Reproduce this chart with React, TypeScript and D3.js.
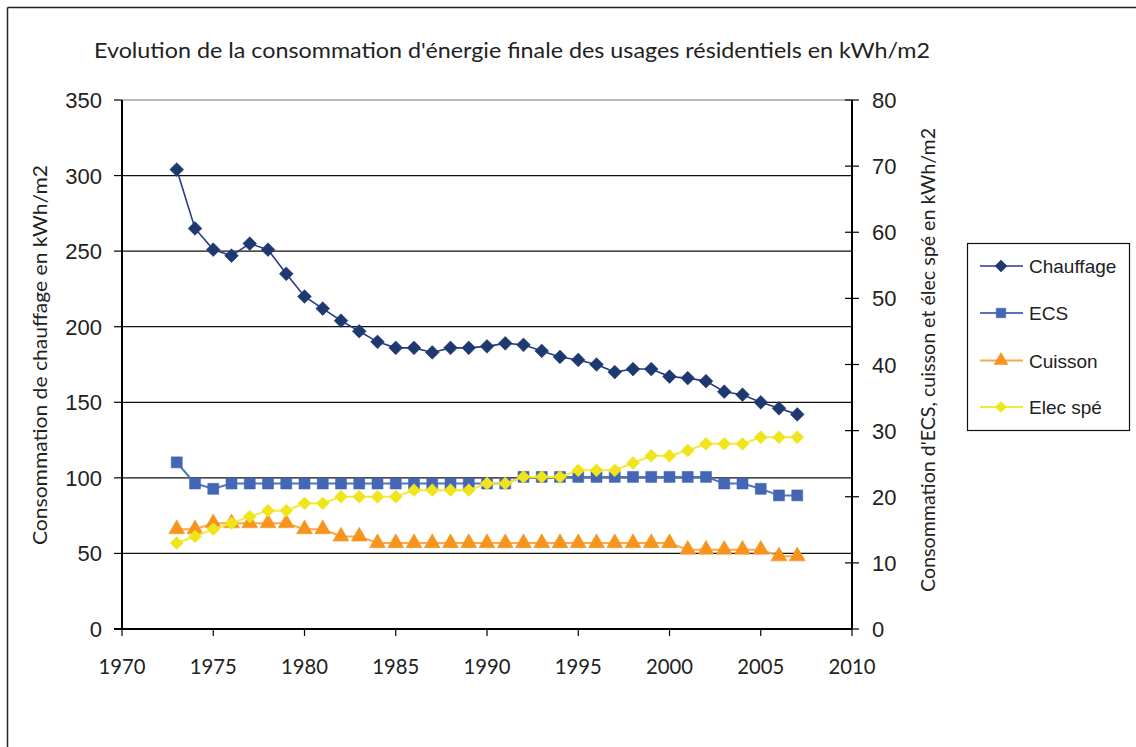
import React from "react";
import * as d3 from "d3";

const years = [
  1973, 1974, 1975, 1976, 1977, 1978, 1979, 1980, 1981, 1982, 1983, 1984,
  1985, 1986, 1987, 1988, 1989, 1990, 1991, 1992, 1993, 1994, 1995, 1996,
  1997, 1998, 1999, 2000, 2001, 2002, 2003, 2004, 2005, 2006, 2007,
];

// left axis (kWh/m2)
const chauffage = [
  304, 265, 251, 247, 255, 251, 235, 220, 212, 204, 197, 190, 186, 186, 183,
  186, 186, 187, 189, 188, 184, 180, 178, 175, 170, 172, 172, 167, 166, 164,
  157, 155, 150, 146, 142,
];

// right axis (kWh/m2)
const ecs = [
  25.2, 22, 21.2, 22, 22, 22, 22, 22, 22, 22, 22, 22, 22, 22, 22, 22, 22, 22,
  22, 23, 23, 23, 23, 23, 23, 23, 23, 23, 23, 23, 22, 22, 21.2, 20.2, 20.2,
];
const cuisson = [
  15.1, 15.1, 16, 16, 16, 16, 16, 15.1, 15.1, 14, 14, 13, 13, 13, 13, 13, 13,
  13, 13, 13, 13, 13, 13, 13, 13, 13, 13, 13, 12, 12, 12, 12, 12, 11, 11,
];
const elecSpe = [
  13, 14, 15.1, 16, 17, 17.9, 17.9, 19, 19, 20, 20, 20, 20, 21, 21, 21, 21, 22,
  22, 23, 23, 23, 24, 24, 24, 25.1, 26.2, 26.2, 27, 28, 28, 28, 29, 29, 29,
];

const leftTicks = [0, 50, 100, 150, 200, 250, 300, 350];
const rightTicks = [0, 10, 20, 30, 40, 50, 60, 70, 80];
const xTicks = [1970, 1975, 1980, 1985, 1990, 1995, 2000, 2005, 2010];

const W = 1136;
const H = 747;
const plot = { left: 122, right: 852, top: 100, bottom: 629 };

const x = d3.scaleLinear().domain([1970, 2010]).range([plot.left, plot.right]);
const yL = d3.scaleLinear().domain([0, 350]).range([plot.bottom, plot.top]);
const yR = d3.scaleLinear().domain([0, 80]).range([plot.bottom, plot.top]);

type Marker = "diamond" | "square" | "triangle";

const series = [
  { name: "Chauffage", values: chauffage, axis: yL, line: "#2A3A86", fill: "#1D3970", marker: "diamond" as Marker, size: 120, lw: 1.6 },
  { name: "ECS", values: ecs, axis: yR, line: "#5276BE", fill: "#4466B4", marker: "square" as Marker, size: 120, lw: 2 },
  { name: "Cuisson", values: cuisson, axis: yR, line: "#F8A850", fill: "#F7941E", marker: "triangle" as Marker, size: 110, lw: 2 },
  { name: "Elec spé", values: elecSpe, axis: yR, line: "#F1EA3A", fill: "#EFE51A", marker: "diamond" as Marker, size: 105, lw: 2 },
];

const symbolOf = (m: Marker) =>
  m === "diamond" ? d3.symbolDiamond2 : m === "square" ? d3.symbolSquare : d3.symbolTriangle;

const calibri = "Lato, 'Open Sans', sans-serif";
const arial = "'Liberation Sans', Arial, sans-serif";

export default function App() {
  const legendRows = [266, 313, 360.5, 407];
  return (
    <div style={{ position: "fixed", left: 0, top: 0, background: "#fff" }}>
      <svg width={W} height={H} style={{ display: "block" }}>
        <rect x={0} y={0} width={W} height={H} fill="#fff" />
        {/* outer chart border */}
        <line x1={7.5} y1={7.5} x2={W} y2={7.5} stroke="#222" strokeWidth={1.5} />
        <line x1={7.5} y1={7.5} x2={7.5} y2={H} stroke="#222" strokeWidth={1.5} />

        <text x={512} y={58} textAnchor="middle" fontFamily={calibri} fontSize={21.5} fill="#222"
          textLength={836} lengthAdjust="spacingAndGlyphs">
          Evolution de la consommation d'énergie finale des usages résidentiels  en kWh/m2
        </text>

        {/* gridlines */}
        {leftTicks.filter((t) => t > 0).map((t) => (
          <line key={t} x1={plot.left} x2={plot.right} y1={yL(t)} y2={yL(t)}
            stroke={t === 350 ? "#777" : "#111"} strokeWidth={1.2} />
        ))}

        {/* left axis */}
        <line x1={plot.left} x2={plot.left} y1={plot.top} y2={plot.bottom} stroke="#000" strokeWidth={2} />
        {leftTicks.map((t) => (
          <g key={t}>
            <line x1={plot.left - 8} x2={plot.left} y1={yL(t)} y2={yL(t)} stroke="#000" strokeWidth={1.2} />
            <text x={102} y={yL(t) + 8} textAnchor="end" fontFamily={arial} fontSize={22} fill="#222">{t}</text>
          </g>
        ))}

        {/* right axis */}
        <line x1={plot.right} x2={plot.right} y1={plot.top} y2={plot.bottom} stroke="#000" strokeWidth={2} />
        {rightTicks.map((t) => (
          <g key={t}>
            <line x1={plot.right - 7} x2={plot.right + 7} y1={yR(t)} y2={yR(t)} stroke="#000" strokeWidth={1.2} />
            <text x={872} y={yR(t) + 8} textAnchor="start" fontFamily={arial} fontSize={22} fill="#222">{t}</text>
          </g>
        ))}

        {/* x axis */}
        <line x1={plot.left - 8} x2={plot.right} y1={plot.bottom} y2={plot.bottom} stroke="#000" strokeWidth={2} />
        {xTicks.map((t) => (
          <g key={t}>
            <line x1={x(t)} x2={x(t)} y1={plot.bottom} y2={plot.bottom + 7} stroke="#000" strokeWidth={1.2} />
            <text x={x(t)} y={674} textAnchor="middle" fontFamily={calibri} fontSize={22} fill="#222"
              textLength={47} lengthAdjust="spacingAndGlyphs">{t}</text>
          </g>
        ))}

        {/* axis titles */}
        <text transform="translate(47,355) rotate(-90)" textAnchor="middle" fontFamily={calibri}
          fontSize={19} fill="#222" textLength={380} lengthAdjust="spacingAndGlyphs">
          Consommation de chauffage en kWh/m2
        </text>
        <text transform="translate(935,360) rotate(-90)" textAnchor="middle" fontFamily={calibri}
          fontSize={19} fill="#222" textLength={464} lengthAdjust="spacingAndGlyphs">
          Consommation d'ECS, cuisson et élec spé en kWh/m2
        </text>

        {/* series */}
        {series.map((s) => {
          const line = d3.line<number>()
            .x((_, i) => x(years[i]))
            .y((v) => s.axis(v));
          const sym = d3.symbol().type(symbolOf(s.marker)).size(s.size)();
          return (
            <g key={s.name}>
              <path d={line(s.values) || ""} fill="none" stroke={s.line} strokeWidth={s.lw} />
              {s.values.map((v, i) => (
                <path key={i} d={sym || ""} transform={`translate(${x(years[i])},${s.axis(v)})`}
                  fill={s.fill} stroke={s.fill} strokeWidth={0.6} />
              ))}
            </g>
          );
        })}

        {/* legend */}
        <rect x={967.5} y={243.5} width={162} height={187} fill="#fff" stroke="#111" strokeWidth={1.2} />
        {series.map((s, i) => {
          const sym = d3.symbol().type(symbolOf(s.marker)).size(s.size * 0.75)();
          const ly = legendRows[i];
          return (
            <g key={s.name}>
              <line x1={980} x2={1023} y1={ly} y2={ly} stroke={s.line} strokeWidth={s.lw} />
              <path d={sym || ""} transform={`translate(1001,${ly})`} fill={s.fill} stroke={s.fill} strokeWidth={0.6} />
              <text x={1029} y={ly + 7} fontFamily={arial} fontSize={19} fill="#222">{s.name}</text>
            </g>
          );
        })}
      </svg>
    </div>
  );
}
